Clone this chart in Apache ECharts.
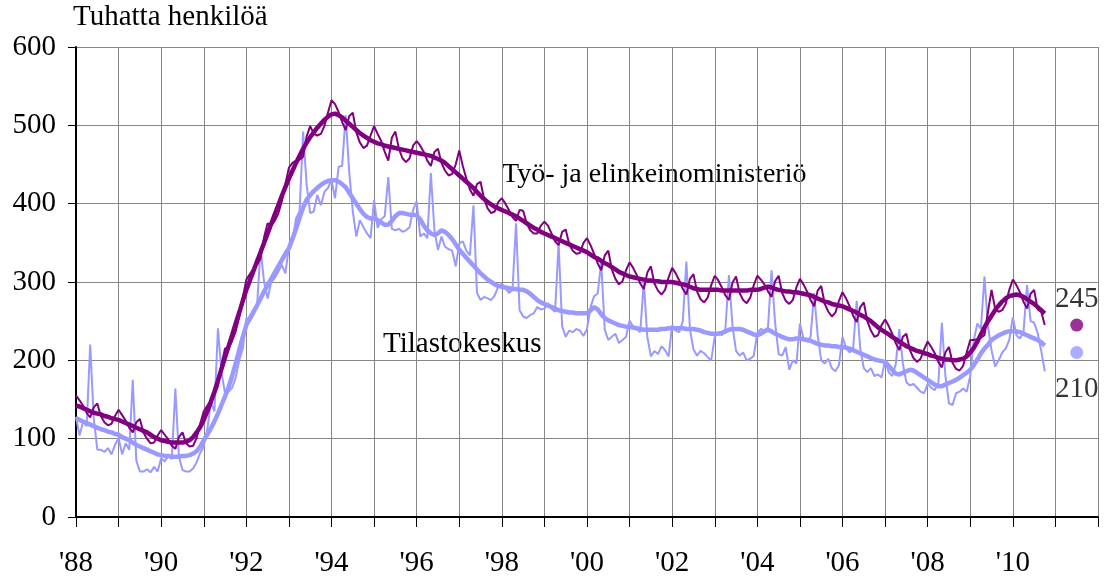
<!DOCTYPE html>
<html><head><meta charset="utf-8">
<script src="https://cdn.jsdelivr.net/npm/echarts/dist/echarts.min.js"></script>
<style>html,body{margin:0;padding:0;background:#fff}#c{width:1104px;height:580px}</style>
</head><body><div id="c"></div>
<script>
const startYear = 1988;
const xTickYears = [1988,1990,1992,1994,1996,1998,2000,2002,2004,2006,2008,2010];
const xTickLabels = ["'88","'90","'92","'94","'96","'98","'00","'02","'04","'06","'08","'10"];
const yTicks = [0,100,200,300,400,500,600];
const seriesNames = ["Työ- ja elinkeinoministeriö","Tilastokeskus"];
const endLabels = [245, 210];

// Työ- ja elinkeinoministeriö, monthly (Jan 1988 - Oct 2010)
const temRaw = [
155,149,142,133,127,140,145,129,121,117,119,129,
137,130,123,114,108,121,125,108,100,94,95,104,
111,105,99,91,87,102,108,94,90,91,101,119,
135,142,149,156,167,195,215,216,225,237,255,280,
303,310,317,322,330,357,375,372,378,387,403,425,
446,452,455,456,460,486,499,489,487,489,499,516,
532,527,517,504,494,512,516,491,478,471,474,487,
499,489,480,466,455,484,492,470,458,453,458,474,
480,474,466,455,448,466,470,452,442,436,438,450,
468,448,432,418,410,425,428,406,394,388,390,402,
407,400,392,383,378,392,391,375,366,362,362,372,
377,372,362,352,347,364,367,348,340,336,337,350,
356,347,336,324,315,334,340,316,304,297,301,315,
325,318,309,298,291,312,320,298,289,284,290,306,
318,311,302,291,284,304,310,288,278,274,280,296,
308,302,293,283,277,299,307,286,277,273,280,296,
308,303,297,288,281,301,308,286,276,272,277,293,
304,297,288,277,269,289,295,272,262,256,261,276,
287,279,269,257,249,268,274,250,238,230,232,245,
252,244,234,222,213,230,234,213,203,198,202,214,
224,217,209,198,191,210,217,197,189,187,193,210,
226,226,227,229,232,262,290,266,262,264,272,290,
303,296,287,275,266,285,290,265,262,245];
const temTrend = [
142,141,139,137,135,133,132,131,129,128,126,125,
124,122,120,118,116,114,112,110,108,105,102,100,
98,97,96,95,95,95,95,96,98,102,108,115,
124,135,147,160,174,189,204,218,232,247,261,276,
290,302,314,326,338,350,362,374,386,398,410,421,
432,442,452,461,470,478,485,491,497,502,507,511,
514,515,513,510,506,502,498,494,490,487,484,481,
479,477,476,474,473,472,471,470,469,468,467,466,
465,464,463,462,461,459,457,455,452,448,444,440,
436,432,428,424,420,415,410,406,402,399,396,394,
392,390,388,386,384,381,378,375,372,369,367,364,
362,360,358,356,354,352,350,348,346,344,342,340,
338,335,332,330,327,324,322,319,316,313,311,309,
307,306,305,304,303,302,302,301,301,300,300,300,
300,299,298,297,296,294,292,291,290,290,290,290,
290,290,289,289,289,289,289,289,289,289,290,290,
290,291,293,294,293,291,290,289,288,288,287,287,
286,285,284,283,281,279,277,275,274,272,271,270,
269,267,265,263,261,258,256,253,250,246,242,239,
236,233,230,227,224,221,218,216,214,212,211,209,
208,206,205,203,202,201,201,200,200,201,202,205,
210,216,224,233,242,250,257,264,270,275,279,282,
283,284,283,281,278,275,272,268,264,260];

// Tilastokeskus, monthly (Jan 1988 - Oct 2010)
const statRaw = [
128,104,122,116,220,126,86,86,83,88,80,92,
101,80,94,86,175,72,58,58,61,57,64,58,
75,71,78,74,164,77,60,58,58,62,70,82,
90,112,146,135,241,184,158,160,165,178,200,215,
254,250,258,268,343,300,279,300,305,313,322,311,
345,352,381,390,492,424,388,390,411,398,415,420,
430,407,447,448,513,440,390,358,379,370,362,356,
405,369,380,384,434,368,366,368,364,366,370,392,
403,358,362,356,439,366,341,358,345,342,340,320,
349,352,340,334,398,286,277,281,279,277,283,294,
298,292,286,290,375,264,256,254,258,260,268,265,
266,273,266,262,349,243,230,238,236,240,238,231,
240,268,282,285,325,239,226,230,234,222,226,230,
251,243,240,236,300,230,205,212,208,218,213,205,
245,238,236,250,326,240,214,206,212,209,204,200,
230,236,232,240,309,244,212,206,210,200,202,206,
235,240,238,242,315,248,208,206,217,188,200,196,
247,228,224,230,286,232,200,196,202,190,186,194,
230,216,210,215,276,215,190,185,190,180,182,178,
200,185,180,195,240,196,172,168,170,165,160,158,
170,165,162,170,248,180,145,143,158,160,164,160,
180,226,247,240,307,243,213,192,200,210,215,226,
255,232,228,236,296,250,248,235,212,186];
const statTrend = [
126,124,122,120,118,116,114,112,111,109,108,106,
105,102,100,98,95,92,90,88,86,84,82,80,
79,78,78,77,77,77,78,78,79,81,84,90,
98,105,113,122,132,143,154,166,180,196,213,230,
245,254,262,270,279,288,296,304,312,320,328,336,
343,355,368,382,395,405,411,416,420,424,427,429,
430,430,428,425,421,414,407,400,393,387,383,381,
381,379,376,373,373,378,384,388,388,387,386,386,
385,380,372,366,362,360,362,366,364,360,355,348,
341,336,331,326,321,316,311,307,303,300,297,295,
294,293,292,291,291,290,290,288,285,281,277,274,
272,270,268,266,264,263,262,261,261,260,260,260,
260,264,268,265,259,254,251,249,247,245,244,243,
243,242,241,240,239,239,239,239,239,240,240,241,
241,241,241,241,240,240,240,239,238,236,235,234,
234,234,235,237,239,240,240,240,239,237,235,233,
232,234,237,239,237,234,232,230,228,227,227,228,
228,227,226,225,223,221,220,219,219,218,218,217,
217,216,215,213,211,209,207,205,203,201,200,199,
198,193,188,183,182,184,186,188,187,184,181,178,
175,172,169,167,167,169,171,173,175,178,181,184,
188,194,201,209,215,220,226,229,232,234,236,237,
237,237,236,234,232,230,228,226,223,219];

const PURPLE = '#800080', LAV = '#9999FF';
const FONT = '"Liberation Serif","Times New Roman",serif';
const labelMap = {};
xTickYears.forEach((y, i) => { labelMap[y] = xTickLabels[i]; });
const toPairs = arr => arr.map((v, i) => [startYear + i / 12, v]);
const endX = 2011.5;

const chart = echarts.init(document.getElementById('c'));
chart.setOption({
  animation: false,
  backgroundColor: '#fff',
  grid: { left: 76, right: 6, top: 47, bottom: 63 },
  xAxis: {
    type: 'value', min: 1988, max: 2012, interval: 1,
    axisLine: { onZero: false, lineStyle: { color: '#000', width: 2 } },
    axisTick: { show: true, length: 10, lineStyle: { color: '#000', width: 1 } },
    splitLine: { show: true, lineStyle: { color: '#868686', width: 1 } },
    axisLabel: { margin: 32, fontFamily: FONT, fontSize: 29, color: '#000',
      showMinLabel: true, showMaxLabel: true,
      formatter: v => labelMap[Math.round(v)] || '' }
  },
  yAxis: {
    type: 'value', min: 0, max: 600, interval: 100,
    axisLine: { show: true, lineStyle: { color: '#000', width: 2 } },
    axisTick: { show: true, length: 8, lineStyle: { color: '#000', width: 1 } },
    splitLine: { show: true, lineStyle: { color: '#868686', width: 1 } },
    axisLabel: { margin: 20, fontFamily: FONT, fontSize: 29, color: '#000',
      formatter: v => yTicks.includes(v) ? String(v) : '' }
  },
  graphic: [
    { type: 'text', left: 73, top: 3, style: { text: 'Tuhatta henkilöä', font: '29px ' + FONT, fill: '#000' } },
    { type: 'text', left: 502, top: 161, style: { text: seriesNames[0], font: '28px ' + FONT, fill: '#000' } },
    { type: 'text', left: 383, top: 330, style: { text: seriesNames[1], font: '29px ' + FONT, fill: '#000' } }
  ],
  series: [
    { name: seriesNames[1] + ' raw', type: 'line', data: toPairs(statRaw), showSymbol: false,
      lineStyle: { color: LAV, width: 2 }, z: 2 },
    { name: seriesNames[0] + ' raw', type: 'line', data: toPairs(temRaw), showSymbol: false,
      lineStyle: { color: PURPLE, width: 2 }, z: 3 },
    { name: seriesNames[1] + ' trend', type: 'line', data: toPairs(statTrend), showSymbol: false,
      lineStyle: { color: LAV, width: 4.5 }, z: 4 },
    { name: seriesNames[0] + ' trend', type: 'line', data: toPairs(temTrend), showSymbol: false,
      lineStyle: { color: PURPLE, width: 4.5 }, z: 5 },
    { type: 'scatter', data: [[endX, endLabels[0]]], symbolSize: 13, itemStyle: { color: PURPLE }, z: 6,
      label: { show: true, position: 'top', distance: 5, formatter: String(endLabels[0]), fontFamily: FONT, fontSize: 29, color: '#000' } },
    { type: 'scatter', data: [[endX, endLabels[1]]], symbolSize: 13, itemStyle: { color: LAV }, z: 6,
      label: { show: true, position: 'bottom', distance: 16, formatter: String(endLabels[1]), fontFamily: FONT, fontSize: 29, color: '#000' } }
  ]
});
</script>
</body></html>
